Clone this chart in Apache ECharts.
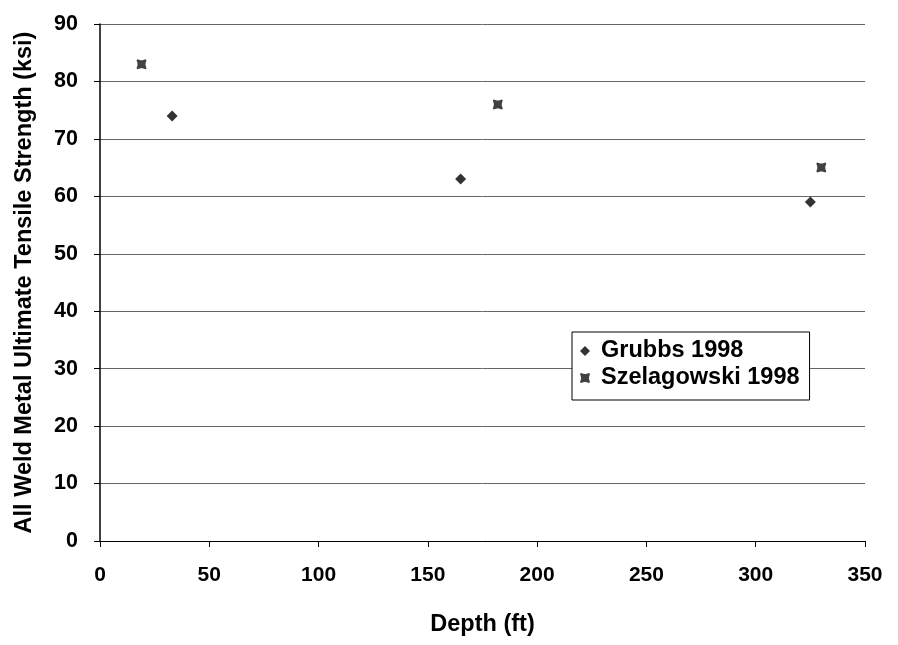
<!DOCTYPE html>
<html>
<head>
<meta charset="utf-8">
<script src="https://cdn.jsdelivr.net/npm/echarts@6/dist/echarts.min.js"></script>
<style>
  html, body { margin: 0; padding: 0; background: #fff; }
  #chart { width: 898px; height: 645px; }
</style>
</head>
<body>
<div id="chart"></div>
<script>
// depth (ft), strength (ksi)
const grubbsData = [[33, 74], [165, 63], [325, 59]];
const szelagowskiData = [[19, 83], [182, 76], [330, 65]];
const xTicks = [0, 50, 100, 150, 200, 250, 300, 350];
const yTicks = [0, 10, 20, 30, 40, 50, 60, 70, 80, 90];

const font = "Liberation Sans, Arial, sans-serif";
let chart = echarts.init(document.getElementById("chart"));
let option = {
    backgroundColor: "#fff",
    animation: false,
    grid: { left: 100, right: 33, top: 24, bottom: 104, outerBoundsMode: "none" },
    legend: {
        orient: "vertical",
        left: 572,
        top: 332,
        padding: [7, 10, 10, 8],
        itemGap: 3,
        itemWidth: 10,
        itemHeight: 10,
        borderColor: "#000",
        borderWidth: 1,
        backgroundColor: "#fff",
        textStyle: { fontFamily: font, fontSize: 23.5, fontWeight: "bold", color: "#000", lineHeight: 22, padding: [0, 0, 0, 6] },
        data: ["Grubbs 1998", "Szelagowski 1998"],
    },
    xAxis: {
        type: "value",
        min: xTicks[0],
        max: xTicks[xTicks.length - 1],
        interval: 50,
        name: "Depth (ft)",
        nameLocation: "middle",
        nameGap: 72,
        nameTextStyle: { fontFamily: font, fontSize: 23.5, fontWeight: "bold", color: "#000" },
        axisLine: { show: true, lineStyle: { color: "#000", width: 1 } },
        axisTick: { show: true, length: 6, lineStyle: { color: "#000" } },
        axisLabel: { margin: 24, fontFamily: font, fontSize: 21, fontWeight: "bold", color: "#000" },
        splitLine: { show: false },
    },
    yAxis: {
        type: "value",
        min: yTicks[0],
        max: yTicks[yTicks.length - 1],
        interval: 10,
        name: "All Weld Metal Ultimate Tensile Strength (ksi)",
        nameLocation: "middle",
        nameGap: 63,
        nameTextStyle: { fontFamily: font, fontSize: 23.5, fontWeight: "bold", color: "#000" },
        axisLine: { show: true, lineStyle: { color: "#000", width: 1.5 } },
        axisTick: { show: true, length: 6, lineStyle: { color: "#000" } },
        axisLabel: { margin: 22, fontFamily: font, fontSize: 21.5, fontWeight: "bold", color: "#000" },
        splitLine: { show: true, lineStyle: { color: "#666", width: 1 } },
    },
    series: [
        {
            name: "Grubbs 1998",
            type: "scatter",
            symbol: "diamond",
            symbolSize: 11,
            itemStyle: { color: "#000" },
            data: grubbsData,
        },
        {
            name: "Szelagowski 1998",
            type: "scatter",
            symbol: "path://M1,0 L4,1 L6,1 L9,0 L10,1 L9,4 L9,6 L10,9 L9,10 L6,9 L4,9 L1,10 L0,9 L1,6 L1,4 L0,1 Z",
            symbolSize: 10,
            itemStyle: { color: "#111" },
            data: szelagowskiData,
        },
    ],
};
chart.setOption(option);
</script>
</body>
</html>
